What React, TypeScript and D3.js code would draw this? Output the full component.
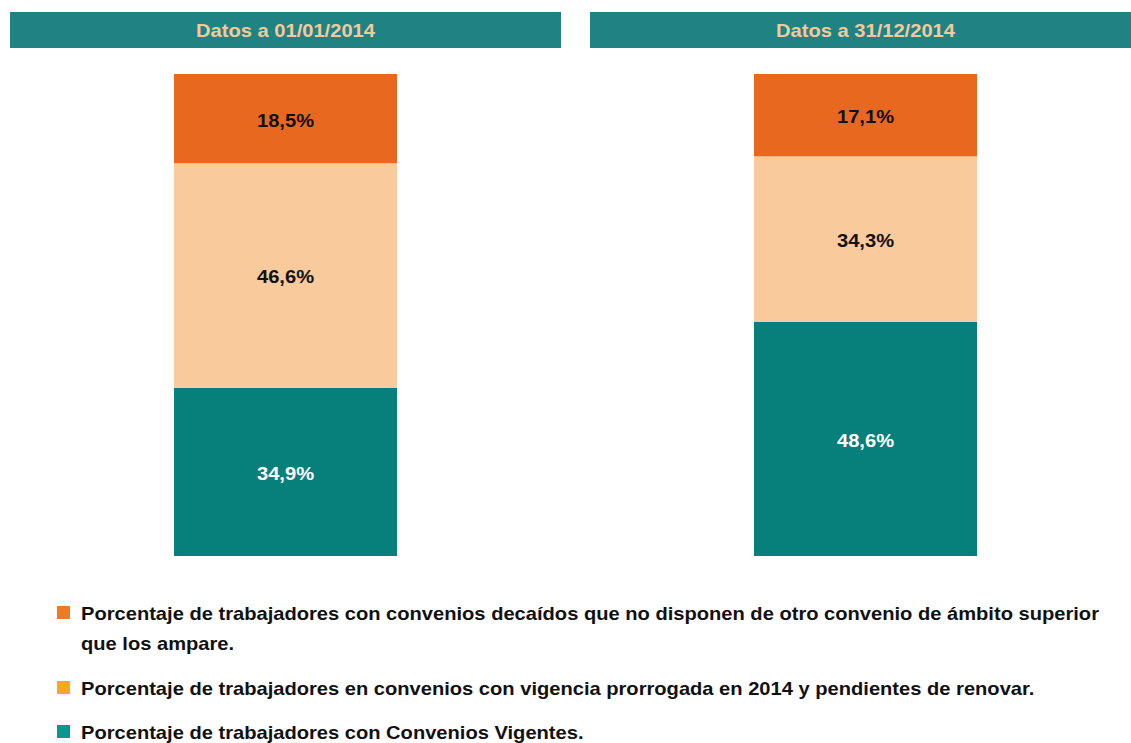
import * as d3 from 'd3'

const panels = ['Datos a 01/01/2014', 'Datos a 31/12/2014']
const series = ['decaidos', 'prorrogados', 'vigentes']
const vigentes = [34.9, 48.6]
const prorrogados = [46.6, 34.3]
const decaidos = [18.5, 17.1]
const barColors = ['#E96820', '#F8CA9C', '#07807C']
const labelColors = ['#111', '#111', '#fff']
const legendColors = ['#EE7A22', '#F9A825', '#0A9690']
const legendLines = [
  ['Porcentaje de trabajadores con convenios decaídos que no disponen de otro convenio de ámbito superior', 'que los ampare.'],
  ['Porcentaje de trabajadores en convenios con vigencia prorrogada en 2014 y pendientes de renovar.'],
  ['Porcentaje de trabajadores con Convenios Vigentes.'],
]

const W = 1131
const H = 743
const font = '"Liberation Sans", Arial, Helvetica, sans-serif'
// the source image is a bit stretched sideways
const stretch = 1.15

const fmt = (v: number) => d3.format('.1f')(v).replace('.', ',') + '%'

const Txt: React.FC<{ x: number; y: number; anchor?: string; size: number; fill: string; children: any }> = ({
  x,
  y,
  anchor,
  size,
  fill,
  children,
}) => (
  <text
    transform={`translate(${x},${y}) scale(${stretch},1)`}
    textAnchor={anchor || 'start'}
    fontSize={size}
    fontWeight="bold"
    fill={fill}
  >
    {children}
  </text>
)

export default function App() {
  // rows for the stack, one per panel
  const rows = panels.map((p, i) => ({
    panel: p,
    vigentes: vigentes[i],
    prorrogados: prorrogados[i],
    decaidos: decaidos[i],
  }))
  // stack from the bottom: vigentes, prorrogados, decaidos
  const stack = d3.stack<any>().keys(['vigentes', 'prorrogados', 'decaidos'])(rows)

  const x = d3.scaleBand<string>().domain(panels).range([10, 1141]).paddingInner(0.05)
  const y = d3.scaleLinear().domain([0, 100]).range([556, 74])
  const barW = 223

  const legendY = [620, 695, 739]

  return (
    <svg
      width={W}
      height={H}
      style={{ position: 'absolute', left: 0, top: 0, background: '#fff' }}
      fontFamily={font}
    >
      {panels.map((p) => {
        const x0 = x(p) as number
        return (
          <g key={p}>
            <rect x={x0} y={12} width={x.bandwidth()} height={36} fill="#1E8382" />
            <Txt x={x0 + x.bandwidth() / 2} y={36.5} anchor="middle" size={17.5} fill="#F7C99A">
              {p}
            </Txt>
          </g>
        )
      })}
      {stack.map((s) => {
        const si = series.indexOf(s.key)
        return (
          <g key={s.key}>
            {s.map((d, i) => {
              const cx = (x(panels[i]) as number) + x.bandwidth() / 2
              const top = y(d[1])
              const bot = y(d[0])
              return (
                <g key={i}>
                  <rect x={cx - barW / 2} y={top} width={barW} height={bot - top} fill={barColors[si]} />
                  <Txt x={cx} y={(top + bot) / 2 + 8} anchor="middle" size={17.5} fill={labelColors[si]}>
                    {fmt(d[1] - d[0])}
                  </Txt>
                </g>
              )
            })}
          </g>
        )
      })}
      {legendLines.map((lines, i) => (
        <g key={i}>
          <rect x={57} y={legendY[i] - 14} width={13} height={13} fill={legendColors[i]} />
          {lines.map((t, j) => (
            <Txt key={j} x={81} y={legendY[i] + j * 30} size={17.5} fill="#111">
              {t}
            </Txt>
          ))}
        </g>
      ))}
    </svg>
  )
}
